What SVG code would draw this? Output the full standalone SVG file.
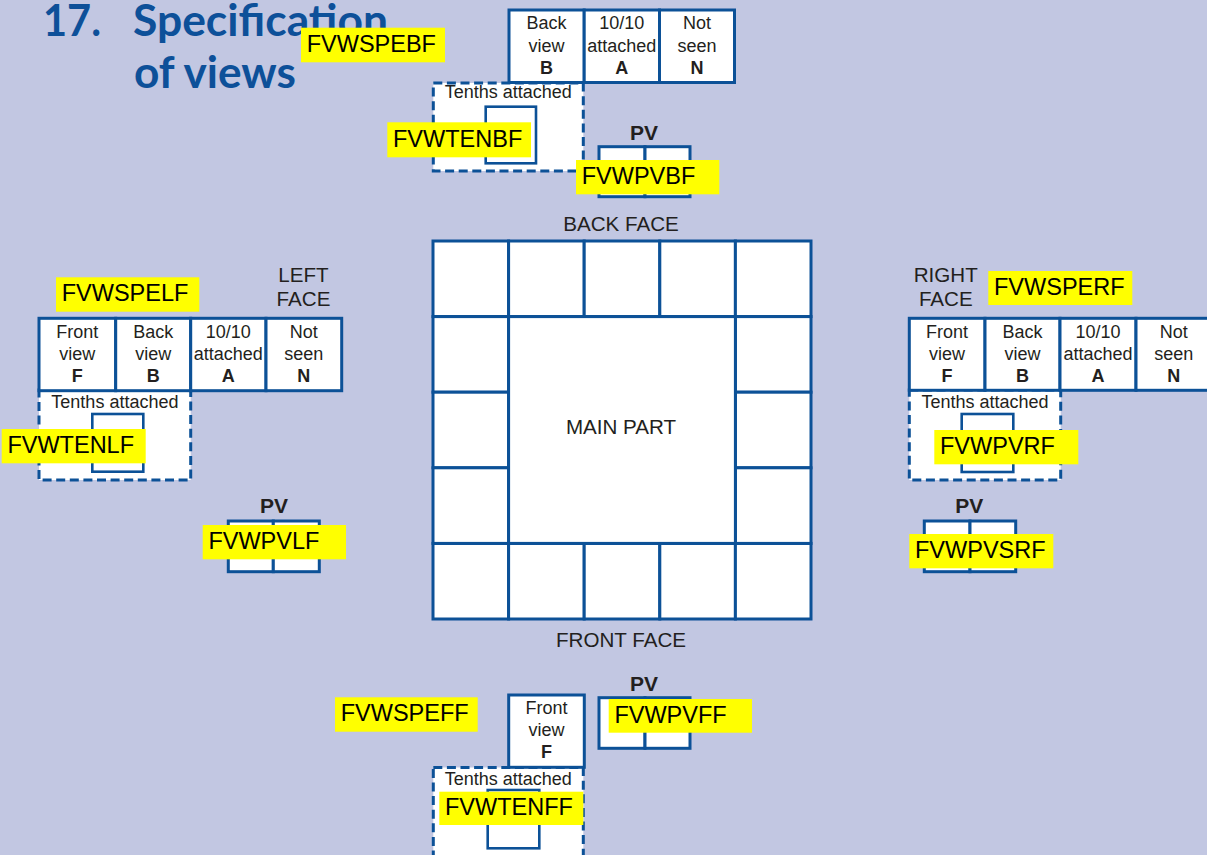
<svg xmlns="http://www.w3.org/2000/svg" width="1207" height="855" viewBox="0 0 1207 855">
<style>
.bg{fill:#c2c7e2}
.cell{fill:#fff;stroke:#0c5197;stroke-width:3}
.inner{fill:#fff;stroke:#0c5197;stroke-width:2.6}
.dash{fill:#fff;stroke:#0c5197;stroke-width:3;stroke-dasharray:9 4.6}
.t{font-family:"Liberation Sans",Arial,sans-serif;fill:#231f20;text-anchor:middle}
.c{font-size:18px}
.cb{font-size:18px;font-weight:bold}
.lbl{font-size:20.6px}
.pv{font-size:21px;font-weight:bold}
.title{font-family:Lato,"Open Sans",sans-serif;font-weight:bold;font-size:43px;fill:#0d5099}
.hl{fill:#ffff00}
.ht{font-family:"Liberation Sans",Arial,sans-serif;font-size:23.5px;fill:#000}
</style>
<rect class="bg" x="0" y="0" width="1207" height="855"/>

<g id="title">
<text class="title" x="43" y="36" textLength="58" lengthAdjust="spacingAndGlyphs">17.</text>
<text class="title" x="133" y="36" textLength="255" lengthAdjust="spacingAndGlyphs">Specification</text>
<text class="title" x="134" y="88" textLength="162" lengthAdjust="spacingAndGlyphs">of views</text>
</g>

<g id="main-grid">
<rect class="cell" x="433" y="241" width="75.6" height="75.6"/>
<rect class="cell" x="508.6" y="241" width="75.6" height="75.6"/>
<rect class="cell" x="584.2" y="241" width="75.6" height="75.6"/>
<rect class="cell" x="659.8" y="241" width="75.6" height="75.6"/>
<rect class="cell" x="735.4" y="241" width="75.6" height="75.6"/>
<rect class="cell" x="433" y="543.4" width="75.6" height="75.6"/>
<rect class="cell" x="508.6" y="543.4" width="75.6" height="75.6"/>
<rect class="cell" x="584.2" y="543.4" width="75.6" height="75.6"/>
<rect class="cell" x="659.8" y="543.4" width="75.6" height="75.6"/>
<rect class="cell" x="735.4" y="543.4" width="75.6" height="75.6"/>
<rect class="cell" x="433" y="316.6" width="75.6" height="75.6"/>
<rect class="cell" x="433" y="392.2" width="75.6" height="75.6"/>
<rect class="cell" x="433" y="467.8" width="75.6" height="75.6"/>
<rect class="cell" x="735.4" y="316.6" width="75.6" height="75.6"/>
<rect class="cell" x="735.4" y="392.2" width="75.6" height="75.6"/>
<rect class="cell" x="735.4" y="467.8" width="75.6" height="75.6"/>
</g>
<g id="main-part">
<rect class="cell" x="508.6" y="316.6" width="226.8" height="226.8"/>
<text class="t lbl" x="621" y="434">MAIN PART</text>
</g>
<g id="face-labels">
<text class="t lbl" x="621" y="231">BACK FACE</text>
<text class="t lbl" x="621" y="646.5">FRONT FACE</text>
<text class="t lbl" x="303.5" y="281.5">LEFT</text>
<text class="t lbl" x="303.5" y="306">FACE</text>
<text class="t lbl" x="945.8" y="281.5">RIGHT</text>
<text class="t lbl" x="945.8" y="306">FACE</text>
</g>

<g id="connectors"></g>

<!-- Back face -->
<g id="back-tenths">
<rect class="dash" x="433.3" y="83" width="150" height="88"/>
<text class="t c" x="508.3" y="97.7">Tenths attached</text>
<rect class="inner" x="485.7" y="106.7" width="50.3" height="56.6"/>
</g>
<g id="back-spec">
<rect class="cell" x="509" y="10" width="75.2" height="72.5"/>
<rect class="cell" x="584.2" y="10" width="75.3" height="72.5"/>
<rect class="cell" x="659.5" y="10" width="75" height="72.5"/>
<text class="t c" x="546.6" y="29">Back</text>
<text class="t c" x="546.6" y="51.5">view</text>
<text class="t cb" x="546.6" y="73.5">B</text>
<text class="t c" x="621.8" y="29">10/10</text>
<text class="t c" x="621.8" y="51.5">attached</text>
<text class="t cb" x="621.8" y="73.5">A</text>
<text class="t c" x="697" y="29">Not</text>
<text class="t c" x="697" y="51.5">seen</text>
<text class="t cb" x="697" y="73.5">N</text>
</g>
<g id="back-pv">
<text class="t pv" x="644" y="140">PV</text>
<rect class="cell" x="599" y="146.7" width="46" height="50"/>
<rect class="cell" x="645" y="146.7" width="45" height="50"/>
</g>

<!-- Left face -->
<g id="left-tenths">
<rect class="dash" x="39" y="390" width="151.7" height="90"/>
<text class="t c" x="114.9" y="408">Tenths attached</text>
<rect class="inner" x="92.3" y="414" width="51" height="57.7"/>
</g>
<g id="left-spec">
<rect class="cell" x="39" y="318.3" width="76.7" height="72.4"/>
<rect class="cell" x="115.7" y="318.3" width="75" height="72.4"/>
<rect class="cell" x="190.7" y="318.3" width="75.3" height="72.4"/>
<rect class="cell" x="266" y="318.3" width="75.7" height="72.4"/>
<text class="t c" x="77.3" y="337.5">Front</text>
<text class="t c" x="77.3" y="359.8">view</text>
<text class="t cb" x="77.3" y="381.7">F</text>
<text class="t c" x="153.2" y="337.5">Back</text>
<text class="t c" x="153.2" y="359.8">view</text>
<text class="t cb" x="153.2" y="381.7">B</text>
<text class="t c" x="228.3" y="337.5">10/10</text>
<text class="t c" x="228.3" y="359.8">attached</text>
<text class="t cb" x="228.3" y="381.7">A</text>
<text class="t c" x="303.8" y="337.5">Not</text>
<text class="t c" x="303.8" y="359.8">seen</text>
<text class="t cb" x="303.8" y="381.7">N</text>
</g>
<g id="left-pv">
<text class="t pv" x="274" y="513">PV</text>
<rect class="cell" x="228.3" y="521" width="45" height="50.7"/>
<rect class="cell" x="273.3" y="521" width="46" height="50.7"/>
</g>

<!-- Right face -->
<g id="right-tenths">
<rect class="dash" x="909.3" y="390" width="151.4" height="90"/>
<text class="t c" x="985" y="408">Tenths attached</text>
<rect class="inner" x="961.7" y="414" width="51.6" height="58"/>
</g>
<g id="right-spec">
<rect class="cell" x="909.3" y="318.3" width="75.7" height="72"/>
<rect class="cell" x="985" y="318.3" width="75" height="72"/>
<rect class="cell" x="1060" y="318.3" width="76" height="72"/>
<rect class="cell" x="1136" y="318.3" width="75.6" height="72"/>
<text class="t c" x="947" y="337.5">Front</text>
<text class="t c" x="947" y="359.8">view</text>
<text class="t cb" x="947" y="381.7">F</text>
<text class="t c" x="1022.5" y="337.5">Back</text>
<text class="t c" x="1022.5" y="359.8">view</text>
<text class="t cb" x="1022.5" y="381.7">B</text>
<text class="t c" x="1098" y="337.5">10/10</text>
<text class="t c" x="1098" y="359.8">attached</text>
<text class="t cb" x="1098" y="381.7">A</text>
<text class="t c" x="1173.8" y="337.5">Not</text>
<text class="t c" x="1173.8" y="359.8">seen</text>
<text class="t cb" x="1173.8" y="381.7">N</text>
</g>
<g id="right-pv">
<text class="t pv" x="969.3" y="513">PV</text>
<rect class="cell" x="924.3" y="521" width="45.7" height="50.7"/>
<rect class="cell" x="970" y="521" width="45.7" height="50.7"/>
</g>

<!-- Front face -->
<g id="front-tenths">
<rect class="dash" x="433.3" y="767.5" width="150" height="100"/>
<text class="t c" x="508.3" y="785">Tenths attached</text>
<rect class="inner" x="487.7" y="790" width="51.6" height="58.3"/>
</g>
<g id="front-spec">
<rect class="cell" x="508.7" y="695" width="75.6" height="72.3"/>
<text class="t c" x="546.5" y="714">Front</text>
<text class="t c" x="546.5" y="736.3">view</text>
<text class="t cb" x="546.5" y="758.3">F</text>
</g>
<g id="front-pv">
<text class="t pv" x="644" y="690.5">PV</text>
<rect class="cell" x="599" y="697.7" width="46" height="50.6"/>
<rect class="cell" x="645" y="697.7" width="45" height="50.6"/>
</g>

<!-- Highlighted codes -->
<g id="codes">
<g id="FVWSPEBF"><rect class="hl" x="301" y="27.7" width="144" height="34.6"/><text class="ht" x="306.7" y="51.7">FVWSPEBF</text></g>
<g id="FVWTENBF"><rect class="hl" x="387.3" y="122.3" width="143.7" height="35"/><text class="ht" x="393" y="146.5">FVWTENBF</text></g>
<g id="FVWPVBF"><rect class="hl" x="576" y="160" width="143.3" height="34.3"/><text class="ht" x="581.7" y="184">FVWPVBF</text></g>
<g id="FVWSPELF"><rect class="hl" x="56" y="277.3" width="143.3" height="34.4"/><text class="ht" x="61.7" y="301.3">FVWSPELF</text></g>
<g id="FVWTENLF"><rect class="hl" x="1.7" y="429" width="144" height="34.3"/><text class="ht" x="7.4" y="453">FVWTENLF</text></g>
<g id="FVWPVLF"><rect class="hl" x="202.7" y="525" width="143.3" height="34.3"/><text class="ht" x="208.4" y="549">FVWPVLF</text></g>
<g id="FVWSPERF"><rect class="hl" x="988.3" y="271" width="144" height="34"/><text class="ht" x="994" y="295">FVWSPERF</text></g>
<g id="FVWPVRF"><rect class="hl" x="934.3" y="430" width="144" height="34.3"/><text class="ht" x="940" y="454">FVWPVRF</text></g>
<g id="FVWPVSRF"><rect class="hl" x="909.3" y="534" width="144" height="34.3"/><text class="ht" x="915" y="558">FVWPVSRF</text></g>
<g id="FVWSPEFF"><rect class="hl" x="335" y="697.3" width="142.7" height="34.4"/><text class="ht" x="340.7" y="721.3">FVWSPEFF</text></g>
<g id="FVWPVFF"><rect class="hl" x="608.7" y="699" width="143.3" height="33.7"/><text class="ht" x="614.4" y="722.7">FVWPVFF</text></g>
<g id="FVWTENFF"><rect class="hl" x="439.3" y="791.7" width="144" height="33.3"/><text class="ht" x="445" y="815.3">FVWTENFF</text></g>
</g>
</svg>
